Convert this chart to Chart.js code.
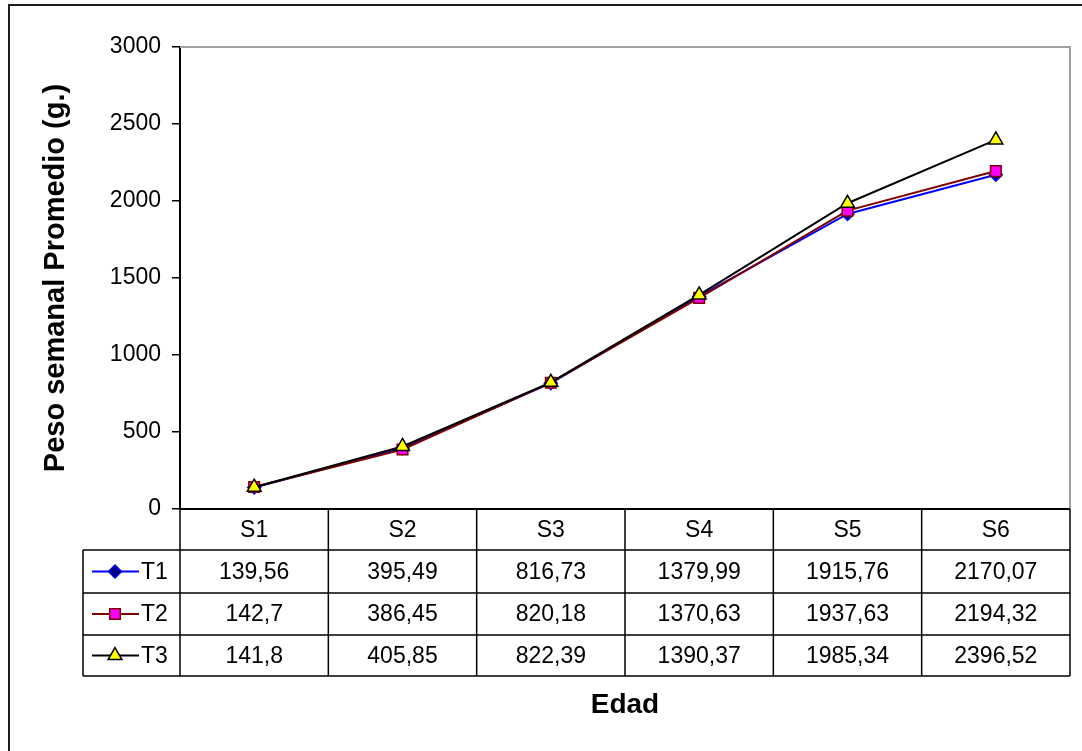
<!DOCTYPE html>
<html>
<head>
<meta charset="utf-8">
<title>Peso semanal promedio</title>
<script src="https://cdn.jsdelivr.net/npm/chart.js@4.4.1/dist/chart.umd.min.js"></script>
<style>
  html, body { margin: 0; padding: 0; background: #ffffff; }
  canvas { display: block; }
</style>
</head>
<body>
<canvas id="grafico" width="1082" height="751"></canvas>
<script>
// Semanas de edad y peso promedio (g) por tratamiento
const semanas = ['S1', 'S2', 'S3', 'S4', 'S5', 'S6'];
const tratamientos = ['T1', 'T2', 'T3'];
const pesoT1 = [139.56, 395.49, 816.73, 1379.99, 1915.76, 2170.07];
const pesoT2 = [142.7, 386.45, 820.18, 1370.63, 1937.63, 2194.32];
const pesoT3 = [141.8, 405.85, 822.39, 1390.37, 1985.34, 2396.52];
const etiquetasY = ['0', '500', '1000', '1500', '2000', '2500', '3000'];

const FUENTE = '"Liberation Sans", Arial, Helvetica, sans-serif';

// Formato con coma decimal, como en la tabla de datos
const formatoValor = v => String(v).replace('.', ',');

// Tabla de datos bajo el eje X, marco del área de trazado y título "Edad"
const tablaDatos = {
  id: 'tablaDatos',
  beforeDatasetsDraw(chart) {
    const { ctx, chartArea: a } = chart;
    ctx.save();
    ctx.strokeStyle = '#a0a0a0';
    ctx.lineWidth = 2;
    ctx.beginPath();
    ctx.moveTo(a.left, a.top);
    ctx.lineTo(a.right, a.top);
    ctx.lineTo(a.right, a.bottom);
    ctx.stroke();
    ctx.restore();
  },
  afterDraw(chart) {
    const { ctx, chartArea: a } = chart;
    const xs = chart.scales.x;
    const mitad = (xs.getPixelForValue(1) - xs.getPixelForValue(0)) / 2;
    const columnas = semanas.map((_, i) => xs.getPixelForValue(i) - mitad);
    columnas.push(xs.getPixelForValue(semanas.length - 1) + mitad);
    const filas = [0, 41, 84, 126, 167].map(d => a.bottom + d);
    const bordeLeyenda = 83;

    ctx.save();
    ctx.strokeStyle = '#000000';

    // eje horizontal
    ctx.lineWidth = 2;
    ctx.beginPath();
    ctx.moveTo(a.left, filas[0]);
    ctx.lineTo(a.right, filas[0]);
    ctx.stroke();

    // cuadrícula de la tabla
    ctx.lineWidth = 1.5;
    ctx.beginPath();
    for (let r = 1; r < filas.length; r++) {
      ctx.moveTo(bordeLeyenda, filas[r]);
      ctx.lineTo(columnas[columnas.length - 1], filas[r]);
    }
    ctx.moveTo(bordeLeyenda, filas[1]);
    ctx.lineTo(bordeLeyenda, filas[filas.length - 1]);
    columnas.forEach(cx => {
      ctx.moveTo(cx, filas[0]);
      ctx.lineTo(cx, filas[filas.length - 1]);
    });
    ctx.stroke();

    // encabezados y valores
    ctx.fillStyle = '#000000';
    ctx.font = '23px ' + FUENTE;
    ctx.textAlign = 'center';
    ctx.textBaseline = 'middle';
    semanas.forEach((s, i) => {
      ctx.fillText(s, xs.getPixelForValue(i), (filas[0] + filas[1]) / 2 + 1);
    });
    chart.data.datasets.forEach((ds, r) => {
      const cy = (filas[r + 1] + filas[r + 2]) / 2 + 1;
      ds.data.forEach((v, i) => {
        ctx.fillText(formatoValor(v), xs.getPixelForValue(i), cy);
      });
    });

    // claves de la leyenda
    chart.data.datasets.forEach((ds, r) => {
      const cy = (filas[r + 1] + filas[r + 2]) / 2;
      ctx.strokeStyle = ds.borderColor;
      ctx.lineWidth = 2;
      ctx.beginPath();
      ctx.moveTo(92, cy);
      ctx.lineTo(139, cy);
      ctx.stroke();
      ctx.fillStyle = ds.pointBackgroundColor;
      ctx.strokeStyle = ds.pointBorderColor;
      ctx.lineWidth = ds.pointBorderWidth;
      Chart.helpers.drawPoint(ctx, {
        pointStyle: ds.pointStyle,
        radius: ds.pointRadius,
        rotation: 0,
        borderWidth: ds.pointBorderWidth
      }, 115, cy);
      ctx.fillStyle = '#000000';
      ctx.textAlign = 'left';
      ctx.fillText(ds.label, 141, cy + 1);
    });

    // título del eje X
    ctx.font = 'bold 28px ' + FUENTE;
    ctx.textAlign = 'center';
    ctx.fillText('Edad', (a.left + a.right) / 2, 705);

    // marco exterior
    ctx.strokeStyle = '#1e1e1e';
    ctx.lineWidth = 2;
    ctx.strokeRect(9, 5, 1100, 800);
    ctx.restore();
  }
};

const serie = (label, data, linea, estilo, radio, relleno, borde, orden) => ({
  label,
  data,
  borderColor: linea,
  borderWidth: 2,
  tension: 0,
  pointStyle: estilo,
  pointRadius: radio,
  pointHoverRadius: radio,
  pointBackgroundColor: relleno,
  pointBorderColor: borde,
  pointBorderWidth: 1.5,
  order: orden
});

new Chart(document.getElementById('grafico'), {
  type: 'line',
  data: {
    labels: semanas,
    datasets: [
      serie(tratamientos[0], pesoT1, '#0000ff', 'rectRot', 6.5, '#000080', '#0000ff', 3),
      serie(tratamientos[1], pesoT2, '#800000', 'rect', 7.5, '#ff00ff', '#800000', 2),
      serie(tratamientos[2], pesoT3, '#000000', 'triangle', 8, '#ffff00', '#000000', 1)
    ]
  },
  options: {
    responsive: false,
    animation: false,
    devicePixelRatio: 1,
    layout: { padding: { left: 0, top: 47, right: 12, bottom: 242 } },
    plugins: {
      legend: { display: false },
      tooltip: { enabled: false },
      title: { display: false }
    },
    scales: {
      x: {
        type: 'category',
        display: false,
        offset: true
      },
      y: {
        min: 0,
        max: 3000,
        ticks: {
          stepSize: 500,
          color: '#000000',
          padding: 11,
          font: { family: FUENTE, size: 23 },
          callback: (v, i) => etiquetasY[i]
        },
        grid: {
          drawOnChartArea: false,
          drawTicks: true,
          tickLength: 8,
          color: '#000000',
          lineWidth: 1.5
        },
        border: { display: true, color: '#000000', width: 2 },
        title: {
          display: true,
          text: 'Peso semanal Promedio (g.)',
          color: '#000000',
          font: { family: FUENTE, size: 29, weight: 'bold' },
          padding: { top: 39, bottom: 0 }
        },
        afterFit(scale) { scale.width = 180; }
      }
    }
  },
  plugins: [tablaDatos]
});
</script>
</body>
</html>
